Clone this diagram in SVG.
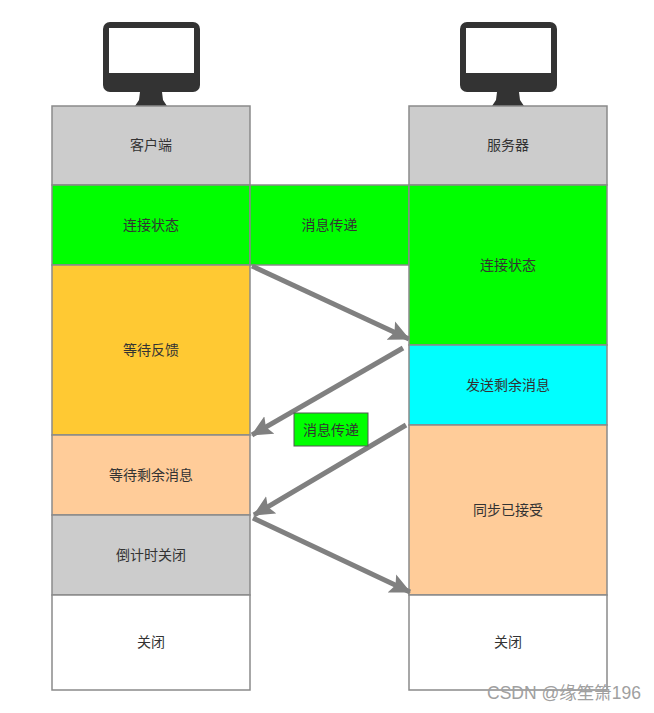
<svg xmlns="http://www.w3.org/2000/svg" width="654" height="713" viewBox="0 0 654 713">
<style>
.box{stroke:#8a8a8a;stroke-width:1.5}
.t{font-family:"Noto Sans CJK SC","Microsoft YaHei",sans-serif;font-size:14px;fill:#333;text-anchor:middle;dominant-baseline:central}
.mon{fill:#333}
.arr{stroke:#808080;stroke-width:5;fill:none}
</style>
<defs>
<marker id="ah" markerUnits="userSpaceOnUse" markerWidth="24" markerHeight="22" refX="20" refY="11" orient="auto">
<path d="M0,1 L21,11 L0,21 L4,11 Z" fill="#808080"/>
</marker>
<g id="monitor">
<rect x="0" y="0" width="97" height="70" rx="7" class="mon"/>
<rect x="6" y="6" width="85" height="45" fill="#fff"/>
<path d="M37,70 L59,70 L60,78 L64,84 L32,84 L36,78 Z" class="mon"/>
</g>
</defs>
<rect width="654" height="713" fill="#fff"/>
<g id="client-monitor"><use href="#monitor" x="103" y="22"/></g>
<g id="server-monitor"><use href="#monitor" x="460" y="22"/></g>

<g id="client">
<rect class="box" x="52" y="106" width="198" height="79" fill="#cccccc"/>
<text class="t" x="151" y="144">客户端</text>
</g>
<g id="c-connected">
<rect class="box" x="52" y="185" width="198" height="80" fill="#00ff00"/>
<text class="t" x="151" y="224">连接状态</text>
</g>
<g id="c-wait">
<rect class="box" x="52" y="265" width="198" height="170" fill="#ffc933"/>
<text class="t" x="151" y="349">等待反馈</text>
</g>
<g id="c-wait-rest">
<rect class="box" x="52" y="435" width="198" height="80" fill="#ffcc99"/>
<text class="t" x="151" y="474">等待剩余消息</text>
</g>
<g id="c-countdown">
<rect class="box" x="52" y="515" width="198" height="80" fill="#cccccc"/>
<text class="t" x="151" y="554">倒计时关闭</text>
</g>
<g id="c-closed">
<rect class="box" x="52" y="595" width="198" height="95" fill="#ffffff"/>
<text class="t" x="151" y="641">关闭</text>
</g>

<g id="msg1">
<rect class="box" x="250" y="185" width="159" height="80" fill="#00ff00"/>
<text class="t" x="329.5" y="224">消息传递</text>
</g>

<g id="server">
<rect class="box" x="409" y="106" width="198" height="79" fill="#cccccc"/>
<text class="t" x="508" y="144">服务器</text>
</g>
<g id="s-connected">
<rect class="box" x="409" y="185" width="198" height="160" fill="#00ff00"/>
<text class="t" x="508" y="264">连接状态</text>
</g>
<g id="s-send">
<rect class="box" x="409" y="345" width="198" height="80" fill="#00ffff"/>
<text class="t" x="508" y="384">发送剩余消息</text>
</g>
<g id="s-sync">
<rect class="box" x="409" y="425" width="198" height="170" fill="#ffcc99"/>
<text class="t" x="508" y="509">同步已接受</text>
</g>
<g id="s-closed">
<rect class="box" x="409" y="595" width="198" height="95" fill="#ffffff"/>
<text class="t" x="508" y="641">关闭</text>
</g>

<g id="connectors">
<line class="arr" x1="252" y1="266" x2="409" y2="339" marker-end="url(#ah)"/>
<line class="arr" x1="403" y1="348" x2="252" y2="435" marker-end="url(#ah)"/>
<line class="arr" x1="406" y1="425" x2="254" y2="515" marker-end="url(#ah)"/>
<line class="arr" x1="253" y1="518" x2="410" y2="592" marker-end="url(#ah)"/>
</g>

<g id="msg2">
<rect x="294" y="413" width="74" height="33" fill="#00ff00" stroke="#555" stroke-width="1"/>
<text class="t" x="331" y="428.5">消息传递</text>
</g>

<text x="487" y="699" font-family="'Liberation Sans','Noto Sans CJK SC',sans-serif" font-size="17.5" fill="#a0a0a0">CSDN @缘笙箫196</text>
</svg>
